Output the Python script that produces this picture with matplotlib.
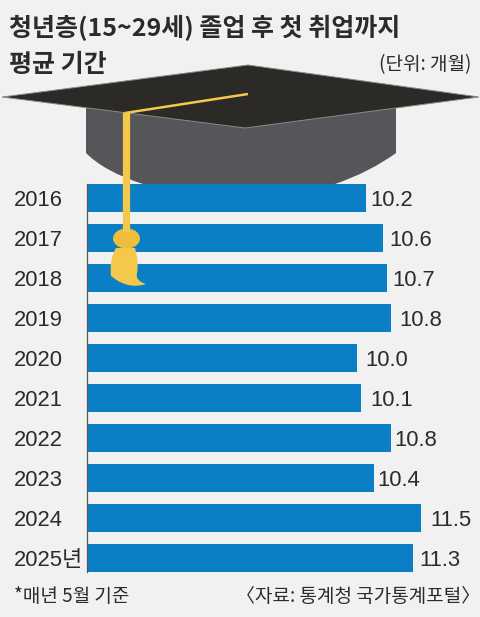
import matplotlib
matplotlib.use("Agg")
import matplotlib.pyplot as plt
from matplotlib.patches import Polygon, Ellipse, PathPatch
from matplotlib.path import Path

years = ["2016", "2017", "2018", "2019", "2020", "2021", "2022", "2023", "2024", "2025년"]
months = [10.2, 10.6, 10.7, 10.8, 10.0, 10.1, 10.8, 10.4, 11.5, 11.3]
value_labels = ["10.2", "10.6", "10.7", "10.8", "10.0", "10.1", "10.8", "10.4", "11.5", "11.3"]

title_lines = ["청년층(15~29세) 졸업 후 첫 취업까지", "평균 기간"]
unit_text = "(단위: 개월)"
note_text = "*매년 5월 기준"
source_text = "〈자료: 통계청 국가통계포털〉"

# gap between bar end and value label, pixels
label_gaps = [5, 7, 5, 8, 8, 9, 3, 3, 9, 7]

W, H = 480, 617
BG = "#f1f1f1"
BLUE = "#0a7fc6"
INK = "#2b2b2b"
YELLOW = "#f4c84a"

num_fam = ["Liberation Sans", "Noto Sans CJK KR"]
kr_fam = ["Noto Sans CJK KR", "DejaVu Sans"]

def px(size):
    return size*72/100

fig = plt.figure(figsize = (W/100, H/100), dpi = 100, facecolor = BG)

# bars live in their own axes, the axis is cut off at 3.7 like the original
ax = fig.add_axes([87/W, 1 - 577.5/H, (W - 87)/W, 399.5/H], facecolor = "none", zorder = 1)
ax.barh(range(len(years)), [m - 3.7 for m in months], left = 3.7, height = 0.7, color = BLUE)
ax.set_xlim(3.7, 12.87)
ax.set_ylim(9.5, -0.5)
for side in ["top", "right", "bottom"]:
    ax.spines[side].set_visible(False)
ax.spines["left"].set_color("#555555")
ax.spines["left"].set_linewidth(0.9)
ax.spines["left"].set_bounds(-0.35, 9.35)
ax.set_xticks([])
ax.set_yticks(range(len(years)))
ax.set_yticklabels(years, family = num_fam, fontsize = px(22), color = INK)
ax.tick_params(axis = "y", length = 0, pad = 0)
for lab in ax.get_yticklabels():
    lab.set_horizontalalignment("left")
    lab.set_x(-73/393)

for i, (m, lab, gap) in enumerate(zip(months, value_labels, label_gaps)):
    ax.annotate(lab, (m, i), xytext = (px(gap), -px(3)), textcoords = "offset points",
        va = "center", ha = "left", family = num_fam, fontsize = px(22), color = INK)

# overlay in pixel coordinates for the cap and the texts
over = fig.add_axes([0, 0, 1, 1], facecolor = "none", zorder = 2)
over.set_xlim(0, W)
over.set_ylim(H, 0)
over.axis("off")

base = Path(
    [(86, 105), (396, 105), (396, 153), (370, 172), (335, 184), (143, 184), (105, 172), (86, 153), (86, 105)],
    [Path.MOVETO, Path.LINETO, Path.LINETO, Path.CURVE3, Path.CURVE3, Path.LINETO, Path.CURVE3, Path.CURVE3, Path.CLOSEPOLY])
over.add_patch(PathPatch(base, facecolor = "#55565a", edgecolor = "none"))
over.add_patch(Polygon([(2, 97), (248, 65), (479, 97), (245, 128)], closed = True,
    facecolor = "#2b2a26", edgecolor = "#8a8a8a", linewidth = 0.7))

# tassel
over.plot([248, 125], [94, 113], color = YELLOW, linewidth = 1.8, solid_capstyle = "butt")
over.plot([125.5, 125.5], [112, 232], color = YELLOW, linewidth = 5.2, solid_capstyle = "butt")
brush = Path(
    [(116, 248), (135, 248), (139, 262), (137, 273), (135, 281), (146, 284), (128, 290), (111, 276), (109, 260), (116, 248)],
    [Path.MOVETO, Path.LINETO, Path.CURVE3, Path.CURVE3, Path.CURVE3, Path.CURVE3, Path.CURVE3, Path.CURVE3, Path.CURVE3, Path.CURVE3])
over.add_patch(PathPatch(brush, facecolor = YELLOW, edgecolor = "none"))
over.add_patch(Ellipse((126.5, 238.5), 27, 20, facecolor = "#efbd3d", edgecolor = "none"))

over.text(9, 28, title_lines[0], family = kr_fam, fontsize = px(25), fontweight = "bold",
    color = INK, va = "center", ha = "left")
over.text(9, 65, title_lines[1], family = kr_fam, fontsize = px(25), fontweight = "bold",
    color = INK, va = "center", ha = "left")
over.text(471, 65, unit_text, family = kr_fam, fontsize = px(19), color = INK, va = "center", ha = "right")
over.text(14, 597, note_text, family = kr_fam, fontsize = px(19), color = INK, va = "center", ha = "left")
over.text(480, 597, source_text, family = kr_fam, fontsize = px(19), color = INK, va = "center", ha = "right")

fig.savefig("out.png", dpi = 100, facecolor = BG)
